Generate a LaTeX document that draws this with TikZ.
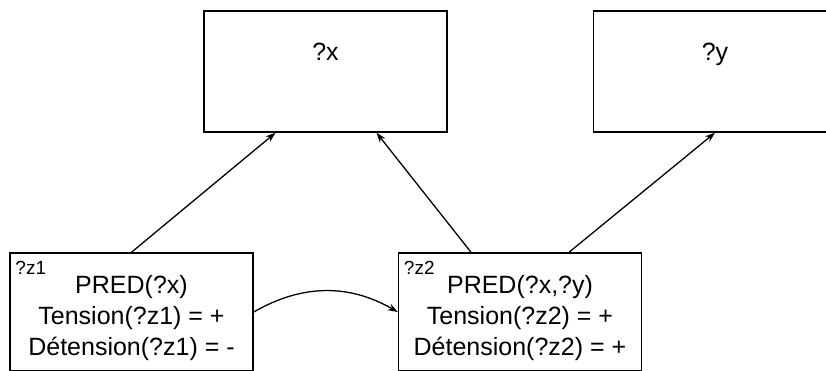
\documentclass[tikz,border=0pt]{standalone}
\usepackage{fontspec}
\setmainfont{Liberation Sans}
\usetikzlibrary{arrows.meta,positioning}

\begin{document}
\begin{tikzpicture}[
    x=1pt, y=-1pt,
    every node/.style={font=\fontsize{25}{31}\selectfont},
    argbox/.style={draw, rectangle, line width=1.5pt, minimum width=243pt, minimum height=121pt, text height=18pt, text depth=41pt, inner sep=0pt},
    predbox/.style={draw, rectangle, line width=1.5pt, minimum width=243pt, minimum height=118pt, align=center, text height=91pt, text depth=5pt, inner sep=0pt},
    tag/.style={anchor=north west, inner xsep=6pt, inner ysep=9pt, font=\fontsize{19}{19}\selectfont},
    arrow/.style={-{Stealth[length=10pt,width=7pt]}, line width=1.3pt}
]
    \path[use as bounding box, clip] (0,0) rectangle (826,370);

    \node[argbox] (x) at (325.5,71.5) {?x};
    \node[argbox, right=145pt of x] (y) {?y};
    \node[predbox] (z1) at (131.5,312) {PRED(?x)\\Tension(?z1) = +\\Détension(?z1) = -};
    \node[predbox, right=144pt of z1] (z2) {PRED(?x,?y)\\Tension(?z2) = +\\Détension(?z2) = +};
    \node[tag] (z1tag) at (z1.north west) {?z1};
    \node[tag] (z2tag) at (z2.north west) {?z2};

    \draw[arrow] (z1.north) -- ([xshift=-50pt]x.south);
    \draw[arrow] ([xshift=-49pt]z2.north) -- ([xshift=51pt]x.south);
    \draw[arrow] ([xshift=49pt]z2.north) -- (y.south);
    \draw[arrow] (z1.east) to[bend left=30] (z2.west);
\end{tikzpicture}
\end{document}
